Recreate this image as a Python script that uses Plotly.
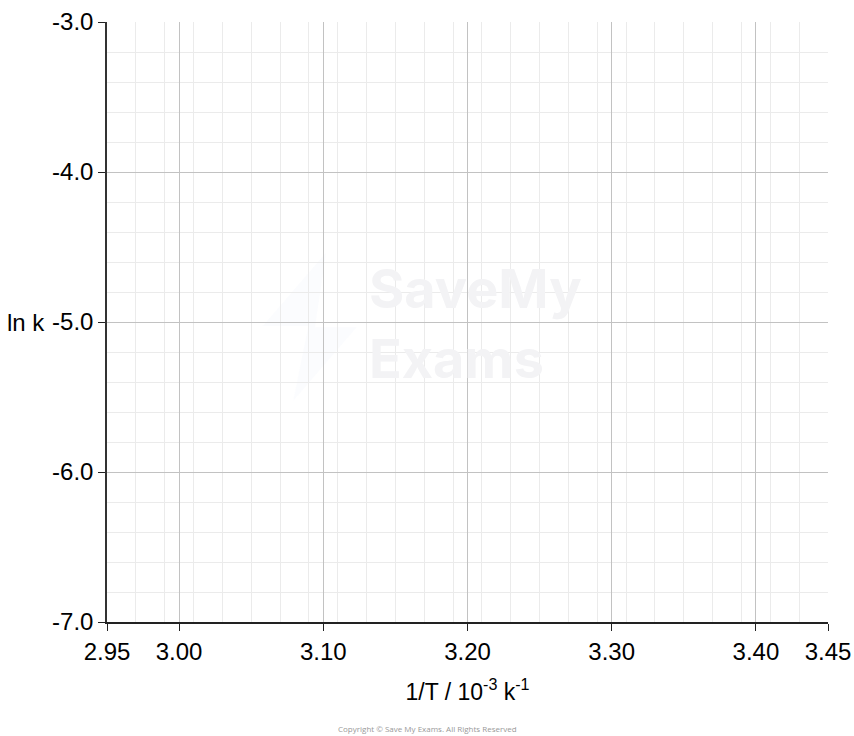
import plotly.graph_objects as go

# Axis values (empty Arrhenius grid)
x_ticks = [2.95, 3.00, 3.10, 3.20, 3.30, 3.40, 3.45]
x_labels = ['2.95', '3.00', '3.10', '3.20', '3.30', '3.40', '3.45']
y_ticks = [-7.0, -6.0, -5.0, -4.0, -3.0]
y_labels = ['-7.0', '-6.0', '-5.0', '-4.0', '-3.0']
x_range = [2.95, 3.45]
y_range = [-7.0, -3.0]

font_name = 'Liberation Sans, Arial, sans-serif'

fig = go.Figure()

# empty trace so the axes are drawn
fig.add_trace(go.Scatter(x=[], y=[], mode='markers', showlegend=False))

fig.update_xaxes(
    range=x_range
    ,tickvals=x_ticks
    ,ticktext=x_labels
    ,ticks='outside'
    ,ticklen=7
    ,tickcolor='#222'
    ,showline=True
    ,linecolor='#222'
    ,linewidth=1.5
    ,showgrid=True
    ,gridcolor='#c2c2c2'
    ,gridwidth=1
    ,zeroline=False
    ,automargin=False
    ,tickfont=dict(family=font_name, size=24, color='#000')
    ,minor=dict(tick0=2.95, dtick=0.02, showgrid=True, gridcolor='#ebebeb', gridwidth=1, ticks='')
    ,title=dict(text='1/T / 10<sup>-3</sup> k<sup>-1</sup>', font=dict(family=font_name, size=23, color='#000'), standoff=20)
)

fig.update_yaxes(
    range=y_range
    ,tickvals=y_ticks
    ,ticktext=y_labels
    ,ticks='outside'
    ,ticklen=7
    ,tickcolor='#222'
    ,showline=True
    ,linecolor='#333'
    ,linewidth=1.5
    ,showgrid=True
    ,gridcolor='#c2c2c2'
    ,gridwidth=1
    ,zeroline=False
    ,automargin=False
    ,tickfont=dict(family=font_name, size=24, color='#000')
    ,minor=dict(tick0=-7.0, dtick=0.2, showgrid=True, gridcolor='#ebebeb', gridwidth=1, ticks='')
)

# horizontal y title
fig.add_annotation(text='ln k', xref='paper', yref='paper', x=-0.1415, y=0.5,
                   xanchor='left', yanchor='middle', showarrow=False,
                   font=dict(family=font_name, size=24, color='#000'))

# faint watermark (logo bolt + text) and copyright line
fig.add_shape(type='path', xref='paper', yref='paper', layer='below',
              path='M 0.3037 0.6155 L 0.2160 0.4933 L 0.2792 0.4933 L 0.2584 0.3688 L 0.3463 0.4912 L 0.2885 0.4912 Z',
              fillcolor='#f2f5fd', line=dict(width=0))
fig.add_annotation(text='<b>SaveMy<br>Exams</b>', xref='paper', yref='paper', x=0.36, y=0.497,
                   xanchor='left', yanchor='middle', align='left', showarrow=False,
                   font=dict(family='Inter, Liberation Sans, sans-serif', size=54, color='#f3f3f5'))
fig.add_annotation(text='Copyright © Save My Exams. All Rights Reserved', xref='paper', yref='paper',
                   x=0.445, y=-0.178, xanchor='center', yanchor='middle', showarrow=False,
                   font=dict(family='Open Sans, sans-serif', size=8, color='#999'))

fig.update_layout(
    width=854
    ,height=736
    ,template='simple_white'
    ,plot_bgcolor='white'
    ,paper_bgcolor='white'
    ,margin=dict(l=107, r=26, t=22, b=114)
    ,showlegend=False
)

# drop the default page margin so the figure fills the window exactly
fig.write_html('out.html', config={'displayModeBar': False},
               post_script="document.body.style.margin='0';")
